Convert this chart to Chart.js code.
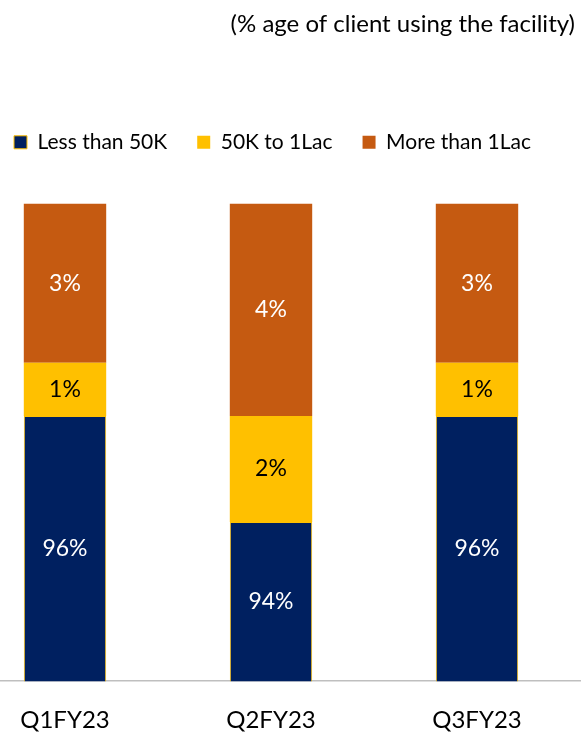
<!DOCTYPE html>
<html>
<head>
<meta charset="utf-8">
<title>Loan size distribution</title>
<script src="https://cdn.jsdelivr.net/npm/chart.js@4.4.1/dist/chart.umd.min.js"></script>
<style>
    html, body { margin: 0; padding: 0; background: #ffffff; overflow: hidden; }
    #wrap { position: relative; width: 581px; height: 744px; }
</style>
</head>
<body>
<div id="wrap"><canvas id="bar-chart"></canvas></div>
<script>
const quarters = ['Q1FY23', 'Q2FY23', 'Q3FY23'];
const seriesNames = ['Less than 50K', '50K to 1Lac', 'More than 1Lac'];
const lessThan50K = [96, 94, 96];
const from50KTo1Lac = [1, 2, 1];
const moreThan1Lac = [3, 4, 3];

const NAVY = '#002060';
const GOLD = '#FFC000';
const RUST = '#C55A11';
const FONT = 'Lato';

// the columns are spread wider than the canvas, so the category axis gets
// its own span once the layout is done
const wideCategoryAxis = {
    id: 'wideCategoryAxis',
    afterLayout(chart) {
        const x = chart.scales.x;
        x.left = -38;
        x.right = 580;
        x.width = x.right - x.left;
        x.configure();
    }
};

// percentage written in the middle of the visible part of each segment
const segmentLabels = {
    id: 'segmentLabels',
    afterDatasetsDraw(chart) {
        const ctx = chart.ctx;
        const area = chart.chartArea;
        ctx.save();
        ctx.font = '23px ' + FONT;
        ctx.textAlign = 'center';
        ctx.textBaseline = 'middle';
        chart.data.datasets.forEach((ds, i) => {
            const meta = chart.getDatasetMeta(i);
            meta.data.forEach((bar, j) => {
                const top = Math.max(bar.y, area.top);
                const bottom = Math.min(bar.base, area.bottom);
                ctx.fillStyle = ds.labelColor;
                ctx.fillText(ds.data[j] + '%', bar.x, (top + bottom) / 2);
            });
        });
        ctx.restore();
    }
};

const ctx = document.getElementById('bar-chart').getContext('2d');

new Chart(ctx, {
    type: 'bar',
    data: {
        labels: quarters,
        datasets: [
            {
                label: seriesNames[0],
                data: lessThan50K,
                backgroundColor: NAVY,
                borderColor: GOLD,
                borderWidth: 1,
                labelColor: '#ffffff'
            },
            {
                label: seriesNames[1],
                data: from50KTo1Lac,
                backgroundColor: GOLD,
                borderWidth: 0,
                labelColor: '#000000'
            },
            {
                label: seriesNames[2],
                data: moreThan1Lac,
                backgroundColor: RUST,
                borderWidth: 0,
                labelColor: '#ffffff'
            }
        ]
    },
    options: {
        responsive: true,
        maintainAspectRatio: false,
        animation: false,
        categoryPercentage: 0.4,
        barPercentage: 1,
        layout: {
            padding: { left: -16, right: 6, top: 0, bottom: -16 }
        },
        plugins: {
            title: {
                display: true,
                text: '(% age of client using the facility)',
                align: 'end',
                color: '#000000',
                font: { family: FONT, size: 24, weight: 'normal' },
                padding: { top: 10, bottom: 63 }
            },
            legend: {
                position: 'top',
                align: 'start',
                labels: {
                    boxWidth: 13,
                    boxHeight: 13,
                    padding: 30,
                    color: '#000000',
                    font: { family: FONT, size: 21 }
                }
            },
            tooltip: { enabled: false }
        },
        scales: {
            x: {
                stacked: true,
                grid: { display: false, drawTicks: false },
                border: { display: true, color: '#BFBFBF', width: 1.5 },
                ticks: {
                    color: '#000000',
                    padding: 25,
                    font: { family: FONT, size: 24 }
                }
            },
            y: {
                stacked: true,
                display: false,
                min: 91,
                max: 100.77
            }
        }
    },
    plugins: [wideCategoryAxis, segmentLabels]
});
</script>
</body>
</html>
